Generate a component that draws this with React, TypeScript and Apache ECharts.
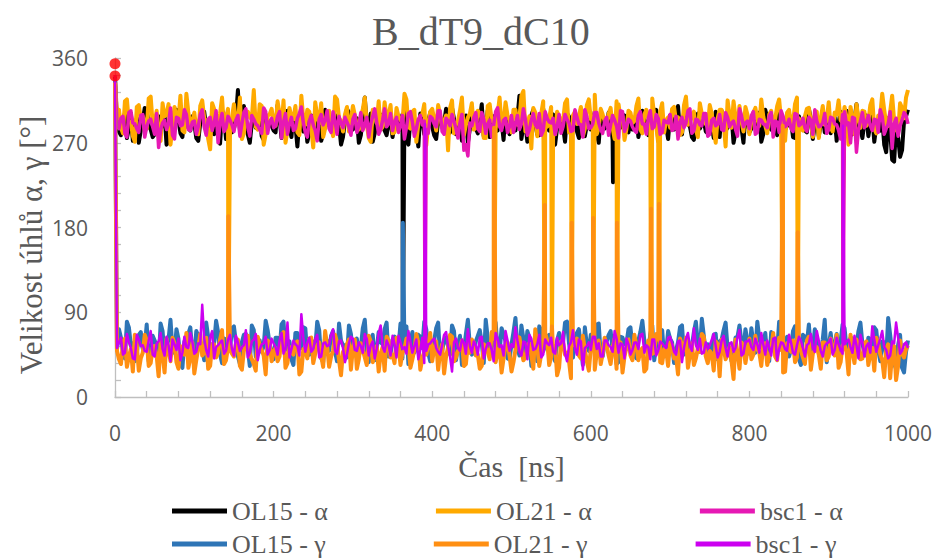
import React, { useEffect, useRef } from "react";
import * as echarts from "echarts";

const TITLE = "B_dT9_dC10";
const X_NAME = "Čas  [ns]";
const Y_NAME = "Velikost úhlů α, γ [°]";
const X_TICKS = [0, 200, 400, 600, 800, 1000];
const Y_TICKS = [0, 90, 180, 270, 360];

// samples every 5 ns (0..1000) and the in-between samples (2.5..997.5)
const TIMES: number[] = Array.from({ length: 201 }, (_, i) => i * 5);
const MID_TIMES: number[] = Array.from({ length: 200 }, (_, i) => i * 5 + 2.5);

const OL15_A = [
  340, 282, 296, 275, 301, 288, 270, 293, 305, 284,
  279, 298, 290, 268, 302, 287, 295, 276, 309, 283,
  291, 272, 300, 286, 296, 279, 289, 304, 274, 292,
  285, 326, 281, 294, 270, 303, 288, 277, 297, 290,
  283, 310, 275, 293, 287, 300, 266, 291, 298, 280,
  295, 286, 272, 305, 289, 281, 299, 268, 293, 302,
  284, 296, 278, 318, 288, 271, 294, 300, 283, 290,
  276, 297, 289, 305, 268, 292, 286, 301, 279, 293,
  287, 274, 298, 291, 282, 307, 279, 295, 288, 270,
  300, 285, 293, 277, 304, 289, 282, 297, 273, 291,
  296, 283, 320, 288, 271, 299, 290, 278, 306, 285,
  293, 268, 297, 287, 301, 280, 292, 275, 298, 289,
  284, 303, 270, 294, 288, 296, 267, 291, 300, 283,
  295, 286, 276, 304, 290, 281, 298, 272, 293, 288,
  299, 284, 309, 279, 292, 287, 273, 301, 290, 282,
  296, 275, 288, 304, 283, 293, 270, 297, 286, 300,
  281, 294, 289, 271, 305, 287, 296, 278, 291, 284,
  300, 276, 293, 288, 283, 306, 274, 295, 290, 281,
  297, 286, 272, 303, 289, 294, 279, 311, 285, 292,
  277, 298, 288, 283, 268, 296, 252, 287, 255, 293,
  305,
];
const OL15_A_MID = [
  290, 278, 301, 285, 272, 296, 283, 307, 288, 276,
  293, 284, 299, 271, 289, 305, 280, 294, 286, 298,
  275, 291, 303, 282, 297, 287, 269, 300, 292, 281,
  296, 284, 309, 279, 291, 286, 300, 273, 294, 288,
  281, 297, 290, 304, 276, 289, 295, 282, 271, 299,
  287, 302, 279, 293, 284, 298, 290, 276, 306, 283,
  292, 270, 297, 288, 301, 280, 295, 287, 278, 296,
  289, 283, 300, 275, 294, 288, 266, 297, 284, 302,
  278, 293, 287, 306, 281, 295, 290, 272, 299, 285,
  294, 280, 311, 287, 276, 298, 283, 292, 303, 279,
  288, 297, 274, 291, 285, 305, 279, 296, 290, 283,
  300, 286, 293, 271, 298, 289, 282, 306, 277, 294,
  291, 279, 297, 285, 302, 273, 290, 286, 299, 281,
  284, 300, 288, 295, 278, 293, 305, 282, 289, 274,
  296, 287, 281, 301, 290, 276, 298, 285, 293, 280,
  289, 303, 276, 292, 286, 299, 281, 294, 270, 297,
  285, 291, 302, 279, 296, 284, 290, 307, 282, 288,
  293, 275, 298, 287, 281, 295, 289, 277, 300, 286,
  280, 297, 291, 284, 304, 278, 293, 288, 275, 299,
  290, 271, 285, 296, 260, 283, 250, 276, 262, 298,
];

const OL21_A = [
  338, 305, 280, 316, 292, 271, 310, 298, 285, 319,
  290, 276, 312, 300, 268, 308, 294, 283, 322, 289,
  302, 279, 315, 293, 263, 306, 287, 318, 296, 281,
  311, 290, 274, 303, 297, 326, 284, 309, 279, 300,
  292, 314, 286, 270, 307, 295, 281, 320, 289, 303,
  265, 298, 312, 285, 304, 277, 316, 293, 300, 282,
  309, 288, 296, 318, 275, 305, 291, 284, 313, 299,
  280, 307, 294, 322, 287, 303, 271, 298, 311, 290,
  306, 283, 300, 293, 262, 315, 289, 304, 278, 297,
  312, 286, 301, 275, 309, 294, 285, 318, 292, 299,
  281, 305, 296, 325, 288, 264, 302, 291, 314, 287,
  308, 279, 298, 293, 316, 284, 303, 297, 277, 310,
  295, 321, 286, 300, 290, 307, 274, 311, 298, 285,
  302, 293, 317, 280, 305, 289, 299, 270, 312, 294,
  286, 308, 297, 281, 319, 292, 303, 276, 301, 290,
  310, 284, 296, 305, 266, 299, 314, 287, 293, 308,
  279, 302, 295, 316, 288, 300, 283, 309, 294, 272,
  305, 291, 318, 285, 298, 307, 276, 303, 296, 289,
  313, 282, 300, 294, 308, 268, 297, 311, 286, 303,
  292, 316, 280, 299, 305, 288, 320, 284, 312, 296,
  326,
];
const OL21_A_MID = [
  300, 286, 314, 292, 277, 308, 295, 283, 317, 290,
  304, 272, 298, 311, 287, 296, 320, 281, 302, 293,
  285, 309, 296, 274, 312, 290, 301, 284, 306, 297,
  292, 318, 280, 303, 295, 287, 311, 268, 299, 306,
  288, 301, 315, 283, 297, 309, 278, 294, 305, 286,
  313, 291, 276, 300, 288, 319, 296, 282, 308, 293,
  299, 284, 306, 290, 271, 302, 314, 287, 296, 310,
  281, 298, 292, 316, 285, 305, 290, 300, 267, 303,
  295, 310, 286, 299, 307, 280, 293, 318, 289, 301,
  284, 304, 296, 275, 311, 291, 300, 286, 313, 294,
  305, 289, 320, 282, 298, 307, 277, 301, 292, 296,
  287, 303, 294, 312, 281, 299, 290, 308, 285, 316,
  298, 279, 306, 293, 301, 286, 314, 295, 273, 304,
  291, 309, 284, 300, 296, 317, 288, 303, 281, 297,
  306, 293, 278, 310, 289, 299, 284, 312, 295, 287,
  301, 270, 305, 292, 315, 286, 297, 309, 282, 300,
  293, 307, 288, 298, 280, 304, 295, 316, 287, 302,
  290, 311, 296, 283, 306, 292, 300, 275, 309, 294,
  286, 302, 315, 291, 297, 308, 279, 296, 304, 288,
  310, 285, 299, 322, 290, 303, 294, 281, 307, 318,
];

const BSC1_A = [
  342, 285, 298, 276, 304, 290, 281, 300, 287, 295,
  279, 265, 291, 284, 307, 274, 296, 289, 300, 283,
  293, 287, 305, 278, 297, 291, 270, 301, 286, 294,
  282, 299, 290, 306, 277, 295, 288, 280, 303, 292,
  286, 298, 275, 301, 290, 283, 296, 308, 281, 293,
  289, 272, 300, 294, 285, 303, 279, 291, 297, 287,
  295, 281, 302, 289, 276, 298, 292, 284, 306, 290,
  283, 297, 288, 274, 301, 292, 285, 299, 293, 280,
  296, 287, 304, 279, 293, 300, 285, 291, 262, 256,
  288, 302, 282, 295, 290, 276, 303, 287, 294, 281,
  299, 290, 284, 306, 278, 294, 289, 301, 283, 296,
  291, 279, 300, 287, 295, 282, 305, 290, 276, 298,
  286, 302, 291, 280, 297, 289, 294, 275, 303, 288,
  293, 283, 299, 290, 279, 304, 287, 296, 281, 292,
  300, 285, 274, 297, 291, 306, 283, 294, 288, 301,
  279, 296, 290, 284, 302, 287, 293, 277, 299, 291,
  285, 303, 281, 294, 289, 298, 276, 292, 304, 287,
  295, 282, 300, 290, 286, 297, 279, 293, 288, 301,
  284, 296, 289, 274, 303, 291, 297, 260, 293, 286,
  299, 283, 294, 305, 279, 290, 264, 296, 288, 302,
  290,
];
const BSC1_A_MID = [
  289, 296, 280, 302, 291, 285, 299, 276, 293, 287,
  301, 283, 294, 290, 278, 297, 288, 305, 284, 292,
  279, 300, 287, 295, 283, 304, 291, 282, 298, 289,
  294, 277, 302, 286, 299, 290, 284, 307, 280, 296,
  288, 303, 292, 279, 297, 285, 301, 291, 276, 299,
  283, 295, 289, 304, 281, 293, 298, 286, 292, 278,
  300, 288, 283, 297, 290, 306, 279, 294, 287, 301,
  292, 281, 299, 286, 303, 277, 295, 289, 284, 298,
  290, 304, 282, 296, 288, 293, 275, 300, 268, 291,
  297, 285, 302, 280, 294, 289, 307, 283, 296, 287,
  281, 299, 290, 295, 284, 301, 286, 278, 303, 292,
  296, 287, 280, 300, 291, 283, 297, 289, 305, 285,
  290, 302, 284, 293, 278, 299, 288, 304, 282, 295,
  287, 281, 303, 290, 296, 285, 300, 279, 294, 291,
  283, 298, 292, 286, 304, 280, 295, 289, 301, 277,
  294, 288, 300, 283, 297, 291, 284, 306, 287, 293,
  299, 279, 295, 290, 286, 302, 293, 281, 298, 289,
  285, 301, 288, 296, 282, 294, 305, 287, 291, 280,
  297, 290, 283, 300, 289, 270, 296, 284, 302, 292,
  288, 295, 281, 298, 285, 303, 290, 277, 294, 299,
];

const OL15_G = [
  336, 72, 48, 80, 55, 38, 66, 51, 77, 44,
  60, 35, 70, 53, 82, 47, 62, 31, 58, 74,
  42, 65, 52, 79, 46, 57, 69, 36, 61, 50,
  75, 43, 58, 67, 33, 71, 54, 48, 81, 56,
  40, 63, 77, 50, 59, 34, 68, 52, 73, 45,
  57, 80, 41, 64, 49, 70, 38, 60, 55, 76,
  46, 62, 53, 82, 37, 66, 51, 58, 72, 43,
  61, 48, 78, 55, 35, 69, 52, 64, 80, 47,
  58, 73, 42, 60, 54, 76, 39, 65, 50, 82,
  45, 59, 71, 36, 63, 53, 79, 48, 67, 41,
  56, 84, 44, 62, 70, 33, 57, 75, 49, 64,
  52, 38, 68, 58, 80, 46, 61, 72, 34, 55,
  66, 49, 78, 43, 59, 70, 52, 37, 63, 57,
  74, 45, 60, 81, 50, 67, 39, 56, 71, 48,
  62, 36, 58, 76, 53, 44, 69, 57, 83, 47,
  55, 66, 40, 61, 79, 51, 35, 64, 58, 72,
  46, 57, 80, 53, 68, 38, 62, 49, 75, 56,
  43, 70, 58, 34, 64, 77, 51, 60, 45, 82,
  55, 48, 67, 59, 73, 41, 62, 54, 79, 46,
  63, 52, 71, 38, 58, 84, 47, 30, 66, 26,
  60,
];
const OL15_G_MID = [
  50, 63, 41, 74, 57, 46, 69, 53, 38, 65,
  55, 78, 44, 61, 50, 72, 36, 59, 67, 48,
  70, 52, 39, 64, 56, 81, 45, 62, 49, 73,
  58, 35, 66, 51, 76, 43, 60, 54, 71, 47,
  63, 49, 80, 56, 40, 68, 53, 74, 44, 61,
  52, 71, 37, 59, 65, 48, 78, 55, 42, 67,
  57, 44, 73, 50, 62, 39, 69, 56, 79, 46,
  64, 53, 41, 75, 58, 47, 66, 52, 72, 38,
  60, 79, 49, 63, 45, 70, 55, 34, 67, 54,
  48, 65, 57, 82, 43, 61, 50, 73, 59, 40,
  69, 52, 76, 46, 63, 55, 38, 71, 54, 66,
  45, 60, 51, 79, 57, 42, 68, 53, 74, 49,
  62, 77, 44, 58, 66, 50, 35, 64, 56, 72,
  53, 41, 69, 60, 47, 76, 55, 63, 43, 70,
  58, 50, 74, 45, 61, 54, 80, 48, 65, 56,
  42, 67, 59, 71, 52, 38, 63, 76, 50, 60,
  73, 47, 62, 55, 43, 69, 57, 80, 46, 64,
  51, 75, 40, 66, 58, 49, 72, 54, 61, 37,
  68, 56, 45, 77, 52, 63, 48, 70, 57, 44,
  61, 74, 50, 59, 42, 66, 35, 55, 31, 48,
];

const OL21_G = [
  334, 40, 58, 32, 51, 66, 28, 47, 60, 36,
  54, 22, 45, 62, 38, 57, 30, 49, 68, 41,
  25, 52, 44, 63, 33, 56, 47, 71, 39, 50,
  43, 61, 29, 54, 46, 35, 64, 50, 24, 57,
  48, 38, 66, 31, 53, 45, 59, 27, 50, 62,
  36, 55, 44, 70, 32, 49, 58, 23, 46, 61,
  52, 30, 57, 42, 65, 37, 54, 46, 28, 60,
  45, 63, 34, 51, 58, 40, 67, 29, 48, 55,
  38, 59, 47, 25, 53, 64, 42, 50, 33, 57,
  61, 44, 30, 56, 48, 69, 37, 52, 41, 58,
  27, 50, 63, 39, 55, 45, 72, 33, 49, 60,
  42, 54, 31, 58, 47, 20, 56, 44, 65, 38,
  51, 29, 60, 46, 55, 35, 62, 48, 26, 53,
  44, 66, 39, 52, 30, 57, 47, 61, 36, 50,
  58, 41, 24, 55, 63, 45, 34, 52, 67, 43,
  49, 28, 56, 61, 40, 53, 19, 47, 58, 36,
  62, 45, 51, 33, 57, 44, 68, 39, 50, 27,
  55, 60, 42, 49, 35, 64, 46, 53, 30, 58,
  43, 51, 66, 37, 55, 24, 48, 61, 40, 57,
  34, 52, 63, 45, 21, 56, 47, 18, 60, 42,
  55,
];
const OL21_G_MID = [
  49, 35, 62, 43, 27, 55, 41, 66, 33, 52,
  44, 59, 26, 50, 63, 37, 54, 45, 31, 58,
  39, 67, 47, 30, 56, 42, 61, 35, 53, 46,
  57, 33, 49, 65, 40, 28, 55, 44, 60, 38,
  52, 43, 69, 36, 48, 57, 24, 51, 41, 63,
  46, 58, 32, 54, 43, 66, 39, 48, 56, 29,
  61, 40, 50, 34, 59, 45, 27, 53, 64, 42,
  36, 55, 47, 62, 31, 50, 58, 40, 45, 68,
  51, 29, 56, 43, 66, 38, 49, 60, 35, 47,
  58, 45, 33, 53, 40, 62, 48, 26, 55, 44,
  37, 64, 50, 42, 57, 30, 53, 46, 68, 34,
  49, 23, 59, 45, 38, 55, 62, 41, 50, 28,
  56, 47, 35, 63, 44, 52, 30, 58, 43, 61,
  39, 54, 48, 27, 60, 46, 67, 37, 51, 33,
  55, 43, 62, 50, 31, 57, 41, 48, 64, 36,
  46, 59, 22, 52, 45, 38, 61, 30, 54, 49,
  40, 65, 47, 56, 34, 51, 43, 63, 26, 57,
  48, 37, 54, 42, 60, 29, 50, 45, 58, 39,
  62, 44, 31, 55, 48, 66, 36, 53, 41, 59,
  45, 28, 57, 39, 50, 20, 54, 33, 46, 51,
];

const BSC1_G = [
  337, 58, 45, 67, 52, 40, 61, 55, 48, 70,
  43, 59, 51, 64, 38, 56, 62, 47, 53, 68,
  46, 57, 98, 50, 63, 41, 55, 60, 49, 66,
  44, 58, 53, 71, 47, 61, 39, 56, 64, 50,
  57, 45, 68, 52, 42, 60, 54, 88, 48, 63,
  51, 66, 43, 58, 55, 72, 46, 60, 37, 57,
  62, 49, 54, 67, 44, 59, 51, 76, 48, 55,
  65, 42, 58, 53, 70, 47, 61, 50, 36, 56,
  60, 52, 45, 66, 54, 27, 62, 49, 58, 72,
  47, 55, 63, 41, 57, 50, 68, 53, 44, 60,
  56, 74, 48, 59, 40, 62, 51, 66, 45, 57,
  63, 46, 55, 69, 38, 58, 52, 61, 29, 54,
  50, 64, 57, 43, 60, 53, 70, 47, 56, 62,
  45, 58, 51, 67, 55, 40, 61, 49, 57, 52,
  64, 48, 59, 37, 62, 54, 73, 50, 46, 58,
  55, 67, 42, 60, 52, 57, 48, 63, 44, 59,
  61, 50, 56, 68, 45, 53, 62, 39, 58, 51,
  66, 47, 55, 60, 43, 57, 52, 70, 49, 54,
  58, 45, 63, 50, 56, 61, 47, 55, 66, 43,
  57, 75, 48, 62, 53, 41, 59, 79, 46, 56,
  52,
];
const BSC1_G_MID = [
  52, 63, 47, 58, 41, 66, 54, 49, 60, 45,
  57, 68, 44, 55, 61, 50, 39, 64, 52, 59,
  48, 56, 62, 43, 70, 53, 58, 46, 61, 51,
  65, 49, 55, 42, 59, 67, 50, 57, 45, 62,
  53, 60, 46, 79, 51, 56, 44, 63, 58, 48,
  61, 42, 57, 54, 66, 49, 59, 52, 45, 64,
  50, 58, 47, 62, 55, 41, 68, 53, 60, 44,
  56, 65, 51, 46, 59, 54, 40, 63, 49, 57,
  62, 48, 55, 69, 43, 58, 52, 61, 46, 54,
  59, 45, 64, 51, 57, 38, 62, 55, 70, 49,
  53, 60, 44, 58, 66, 50, 56, 42, 61, 55,
  48, 63, 57, 46, 54, 71, 45, 59, 52, 58,
  64, 51, 43, 60, 55, 48, 62, 57, 41, 56,
  50, 58, 66, 47, 53, 61, 44, 59, 54, 63,
  57, 45, 60, 52, 68, 49, 55, 62, 47, 51,
  61, 54, 48, 65, 43, 58, 52, 71, 46, 59,
  53, 62, 47, 56, 60, 44, 63, 51, 57, 49,
  58, 45, 64, 52, 55, 67, 48, 60, 43, 57,
  62, 50, 56, 46, 59, 53, 65, 41, 58, 54,
  47, 61, 55, 70, 50, 44, 57, 63, 49, 58,
];

// switching events (time [ns], angle [°])
const OL15_A_EVENTS = [[363, 55], [628, 228]];
const OL15_G_EVENTS = [[363, 185]];
const OL21_A_EVENTS = [
  [143, 58], [478, 55], [542, 60], [551, 52], [576, 57], [603, 55],
  [633, 58], [676, 54], [686, 60], [842, 56], [861, 58],
];
const OL21_G_EVENTS = [
  [143, 192], [478, 286], [542, 204], [551, 75], [576, 185], [603, 190],
  [633, 185], [676, 200], [686, 205], [842, 288], [861, 175],
];
const BSC1_A_EVENTS = [[391, 55], [918, 57]];
const BSC1_G_EVENTS = [[391, 290], [918, 288]];

const START_POINTS = [[0, 354], [0, 341]];

const NAMES = ["OL15 - α", "OL21 - α", "bsc1 - α", "OL15 - γ", "OL21 - γ", "bsc1 - γ"];
const COLORS = ["#000000", "#FFAA00", "#E619B4", "#2E75B6", "#FF8F12", "#CC00F0"];
const WIDTHS = [4, 4, 3.5, 4, 4, 2.5];

function build(base: number[], mid: number[], events: number[][]) {
  const pts = base.map((v, i) => [TIMES[i], v]);
  mid.forEach((v, i) => pts.push([MID_TIMES[i], v]));
  events.forEach((e) => pts.push([e[0], e[1]]));
  pts.sort((a, b) => a[0] - b[0]);
  return pts;
}

const SERIF = "'Liberation Serif', 'Times New Roman', serif";
const SANS = "'Open Sans', 'Liberation Sans', sans-serif";
const GRAY = "#595959";
const AXIS_GRAY = "#BFBFBF";

export default function App() {
  const ref = useRef<HTMLDivElement>(null);
  useEffect(() => {
    if (!ref.current) return;
    const chart = echarts.init(ref.current, undefined, { renderer: "svg" });
    const datasets = [
      build(OL15_A, OL15_A_MID, OL15_A_EVENTS),
      build(OL21_A, OL21_A_MID, OL21_A_EVENTS),
      build(BSC1_A, BSC1_A_MID, BSC1_A_EVENTS),
      build(OL15_G, OL15_G_MID, OL15_G_EVENTS),
      build(OL21_G, OL21_G_MID, OL21_G_EVENTS),
      build(BSC1_G, BSC1_G_MID, BSC1_G_EVENTS),
    ];
    const axisCommon = {
      axisLine: { show: true, lineStyle: { color: AXIS_GRAY, width: 1.3 } },
      axisTick: { show: true, inside: true, length: 6, lineStyle: { color: AXIS_GRAY, width: 1.3 } },
      minorTick: { show: true, splitNumber: 5, length: 6, lineStyle: { color: AXIS_GRAY, width: 1.3 } },
      splitLine: { show: false },
      minorSplitLine: { show: false },
    };
    const legendCommon = {
      left: 172,
      padding: 0,
      icon: "rect",
      itemWidth: 55,
      itemHeight: 5,
      itemGap: 108,
      textStyle: { fontFamily: SERIF, fontSize: 26, color: GRAY },
    };
    chart.setOption({
      animation: false,
      backgroundColor: "#ffffff",
      title: {
        text: TITLE,
        left: 367,
        top: 6,
        textStyle: { fontFamily: SERIF, fontSize: 40, fontWeight: "normal", color: GRAY },
      },
      graphic: [
        {
          type: "text",
          x: 31,
          y: 245,
          rotation: Math.PI / 2,
          style: {
            text: Y_NAME,
            fontFamily: SERIF,
            fontSize: 31,
            fill: GRAY,
            align: "center",
            verticalAlign: "middle",
          },
        },
      ],
      legend: [
        { ...legendCommon, data: NAMES.slice(0, 3), top: 498 },
        { ...legendCommon, data: NAMES.slice(3), top: 531 },
      ],
      grid: { left: 115, right: 29, top: 58, bottom: 161, containLabel: false },
      xAxis: {
        type: "value",
        min: X_TICKS[0],
        max: X_TICKS[X_TICKS.length - 1],
        interval: X_TICKS[1] - X_TICKS[0],
        name: X_NAME,
        nameLocation: "middle",
        nameGap: 54,
        nameTextStyle: { fontFamily: SERIF, fontSize: 30, color: GRAY },
        axisLabel: { fontFamily: SANS, fontSize: 21, color: GRAY, margin: 25, formatter: (v: number) => String(v) },
        ...axisCommon,
      },
      yAxis: {
        type: "value",
        min: Y_TICKS[0],
        max: Y_TICKS[Y_TICKS.length - 1],
        interval: Y_TICKS[1] - Y_TICKS[0],
        axisLabel: { fontFamily: SANS, fontSize: 21, color: GRAY, margin: 27, formatter: (v: number) => String(v) },
        ...axisCommon,
      },
      series: [
        ...datasets.map((d, i) => ({
          name: NAMES[i],
          type: "line",
          data: d,
          symbol: "none",
          showSymbol: false,
          color: COLORS[i],
          lineStyle: { color: COLORS[i], width: WIDTHS[i], join: "round" },
          silent: true,
        })),
        {
          name: "start",
          type: "scatter",
          data: START_POINTS,
          symbol: "circle",
          symbolSize: 11,
          itemStyle: { color: "#FF0000" },
          z: 5,
        },
      ],
    });
    return () => chart.dispose();
  }, []);
  return (
    <div
      ref={ref}
      style={{ position: "fixed", left: 0, top: 0, width: 937, height: 558, background: "#fff" }}
    />
  );
}
